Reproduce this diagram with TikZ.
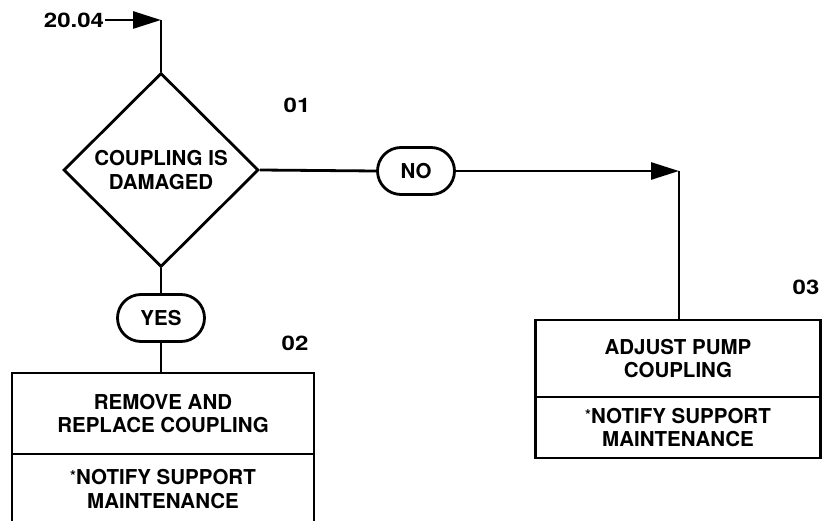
\documentclass[tikz,border=0pt]{standalone}
\usepackage{fontspec}
\setmainfont{TeX Gyre Heros}
\newfontfamily\labelfont[FakeStretch=1.2]{TeX Gyre Heros}
\usetikzlibrary{positioning, calc, arrows.meta, shapes.geometric, shapes.misc}
\newcommand{\notemark}{{\fontsize{15}{15}\selectfont\raisebox{3pt}{*}}}
\tikzset{
    flowline/.style={line width=2.8pt, color=black},
    flowarrow/.style={flowline, -{Triangle[length=28pt,width=17pt]}},
    decision/.style={diamond, draw, line width=2.8pt, aspect=1, inner sep=0pt, minimum width=195pt, minimum height=194pt, align=center, font=\bfseries\fontsize{20.5}{24.5}\selectfont},
    answer/.style={rounded rectangle, draw, line width=2.8pt, minimum height=47pt, inner sep=0pt, font=\bfseries\fontsize{20.5}{24.5}\selectfont},
    actionbox/.style={rectangle, draw, line width=2.8pt, align=center, inner sep=0pt, minimum width=#1, font=\bfseries\fontsize{20.5}{23.5}\selectfont},
    steplabel/.style={font=\labelfont\bfseries\fontsize{20}{20}\selectfont},
}
\begin{document}
\begin{tikzpicture}[x=1pt, y=-1pt]
    \useasboundingbox (0,0) rectangle (824,521);
    % entry and decision
    \node[steplabel, inner sep=1pt] (entry) at (74,20) {20.04};
    \coordinate (entrycorner) at (161,20);
    \node[decision] (dec) at (161,170) {COUPLING IS\\DAMAGED};
    \node[steplabel] (lbl01) at (297,105) {01};

    % yes branch
    \node[answer, minimum width=87pt] (yes) at (161,318) {YES};
    \node[steplabel] (lbl02) at (295,343) {02};
    \node[actionbox=302pt, minimum height=81pt] (lefttop) at (163,413.5) {REMOVE AND\\REPLACE COUPLING};
    \node[actionbox=302pt, minimum height=70pt] (leftbot) at (163,489) {\notemark NOTIFY SUPPORT\\MAINTENANCE};

    % no branch
    \node[answer, minimum width=77pt] (no) at (416,171) {NO};
    \coordinate (nocorner) at (679,171);
    \node[steplabel] (lbl03) at (806,287) {03};
    \node[actionbox=285pt, minimum height=77pt] (righttop) at (678,358.5) {ADJUST PUMP\\COUPLING};
    \node[actionbox=285pt, minimum height=61pt] (rightbot) at (678,427.5) {\notemark NOTIFY SUPPORT\\MAINTENANCE};

    \draw[flowarrow] (entry.east) -- (entrycorner);
    \draw[flowline] (entrycorner) -- (dec.north);
    \draw[flowline] (dec.south) -- (yes.north);
    \draw[flowline] (yes.south) -- (yes.south |- lefttop.north);
    \draw[flowline] (dec.east) -- (no.west);
    \draw[flowarrow] (no.east) -- (nocorner);
    \draw[flowline] (nocorner) -- (nocorner |- righttop.north);
\end{tikzpicture}
\end{document}
